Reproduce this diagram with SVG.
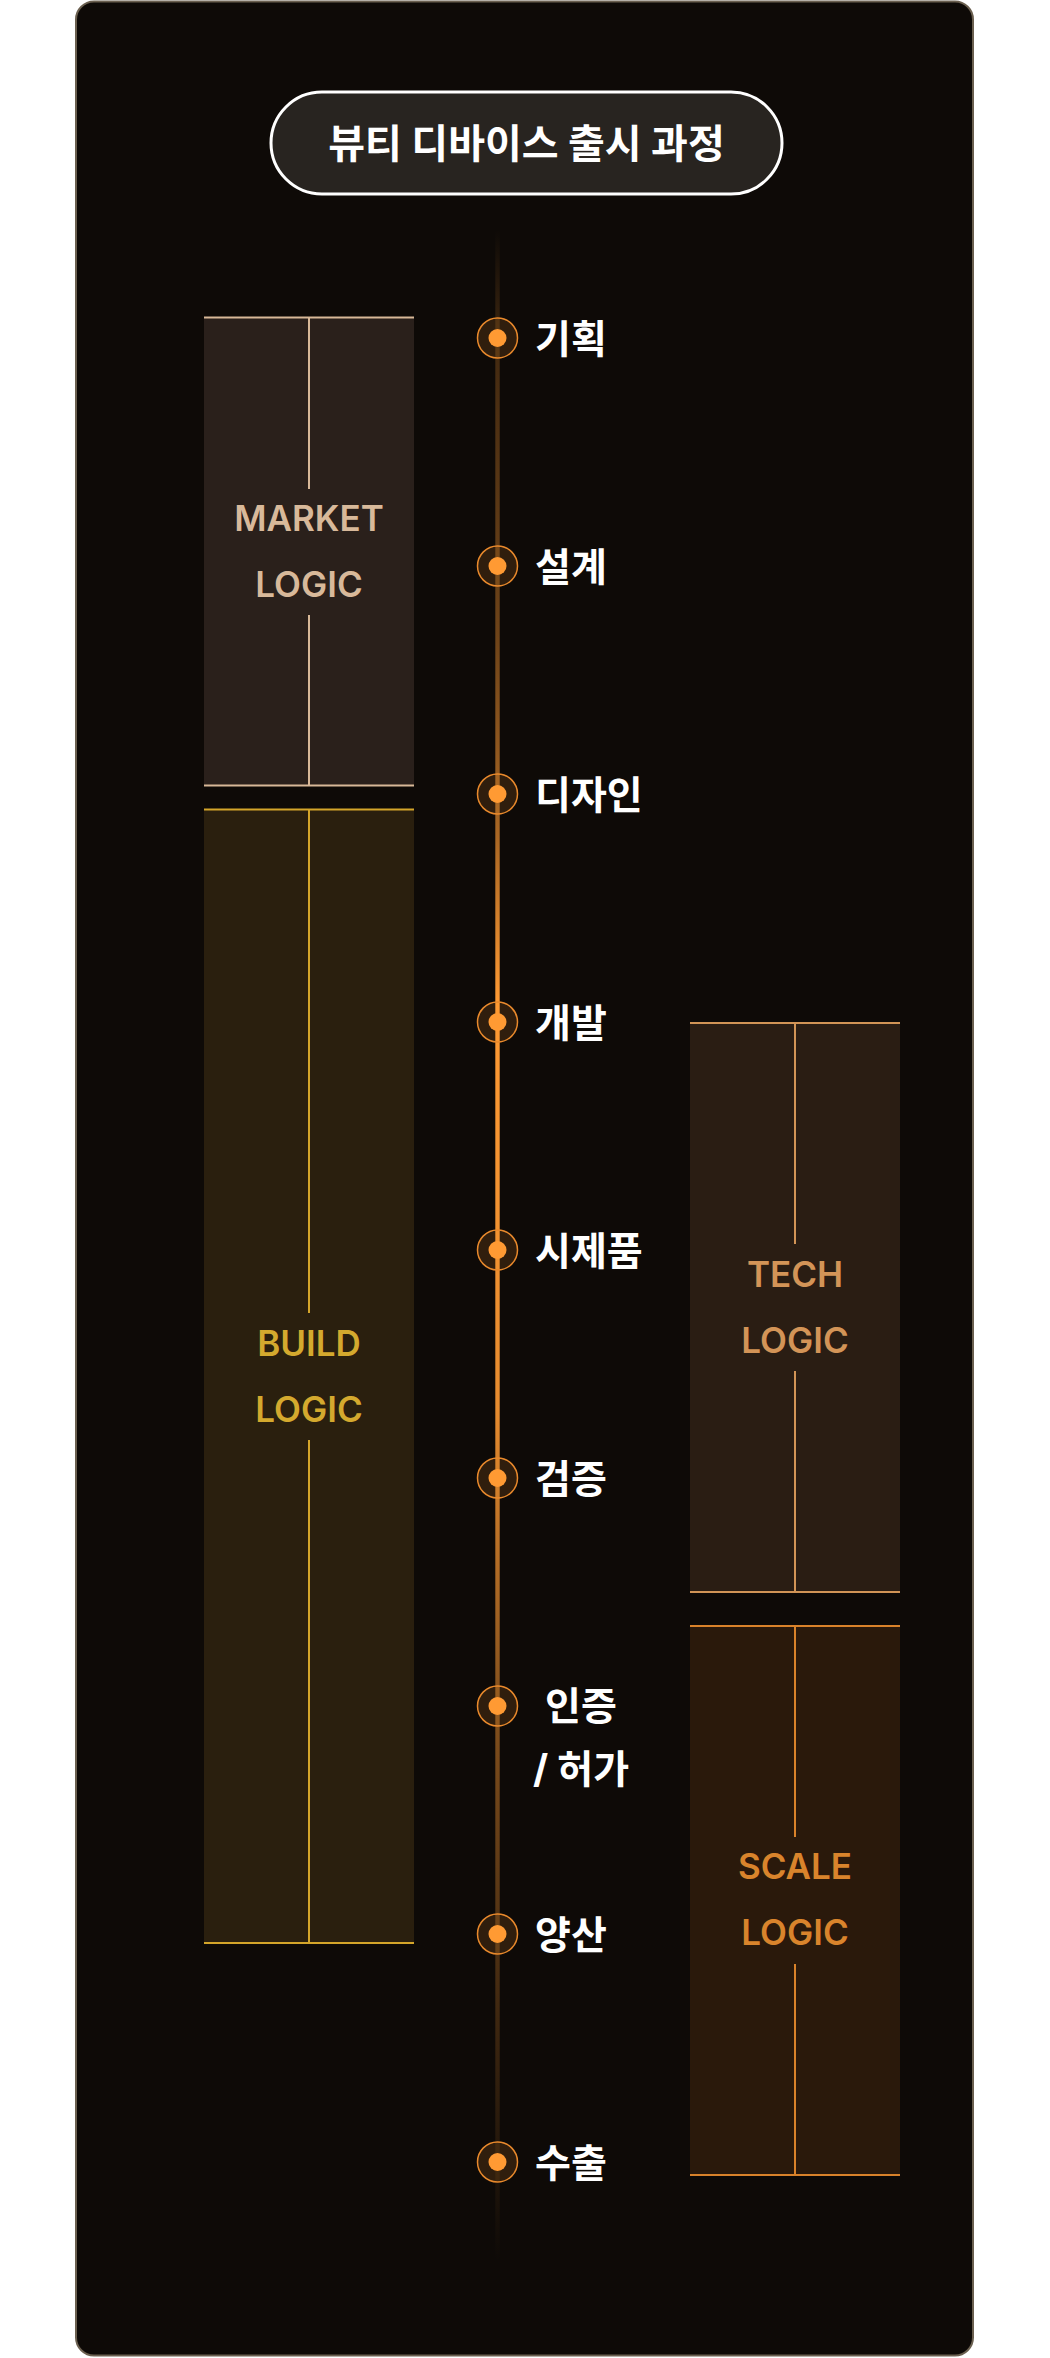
<svg xmlns="http://www.w3.org/2000/svg" width="1050" height="2358" viewBox="0 0 1050 2358">
  <defs>
    <linearGradient id="tl" gradientUnits="userSpaceOnUse" x1="0" y1="230" x2="0" y2="2262">
      <stop offset="0" stop-color="#ff9a33" stop-opacity="0"/>
      <stop offset="0.06" stop-color="#ff9a33" stop-opacity="0.22"/>
      <stop offset="0.2" stop-color="#ff9a33" stop-opacity="0.4"/>
      <stop offset="0.3" stop-color="#ff9a33" stop-opacity="0.65"/>
      <stop offset="0.38" stop-color="#ff9a33" stop-opacity="1"/>
      <stop offset="0.58" stop-color="#ff9a33" stop-opacity="0.9"/>
      <stop offset="0.72" stop-color="#ff9a33" stop-opacity="0.5"/>
      <stop offset="0.88" stop-color="#ff9a33" stop-opacity="0.2"/>
      <stop offset="1" stop-color="#ff9a33" stop-opacity="0"/>
    </linearGradient>
  </defs>
  <style>
    .kr { font-family: Inter, "Noto Sans CJK KR", sans-serif; font-weight: 700; fill: #ffffff; }
    .stage { font-size: 39px; }
    .title { font-size: 40px; }
    .logic { font-family: Inter, "Liberation Sans", sans-serif; font-weight: 600; font-size: 35px; text-anchor: middle; }
    .ring { fill: #ff9a33; fill-opacity: 0.14; stroke: #e8892c; stroke-width: 1.5; }
    .dot { fill: #ff9a33; }
    .m-fill { fill: #2a201b; } .m-line { stroke: #d8b898; stroke-width: 2; fill: none; } .m-text { fill: #d8b99a; }
    .b-fill { fill: #2a1f0e; } .b-line { stroke: #d4a52a; stroke-width: 2; fill: none; } .b-text { fill: #d4a92e; }
    .t-fill { fill: #2a1d13; } .t-line { stroke: #d29456; stroke-width: 2; fill: none; } .t-text { fill: #d39457; }
    .s-fill { fill: #2a190b; } .s-line { stroke: #d9822a; stroke-width: 2; fill: none; } .s-text { fill: #d9842c; }
  </style>

  <rect x="0" y="0" width="1050" height="2358" fill="#ffffff"/>
  <rect id="frame" x="76" y="1.5" width="897" height="2354" rx="18" fill="#0e0a07" stroke="#6b6050" stroke-width="2"/>

  <g id="title">
    <rect x="271" y="92" width="511" height="102" rx="51" fill="#282420" stroke="#ffffff" stroke-width="3"/>
    <text class="kr title" x="526.5" y="157.5" text-anchor="middle">뷰티 디바이스 출시 과정</text>
  </g>

  <g id="market-logic">
    <rect class="m-fill" x="204" y="317.5" width="210" height="468"/>
    <path class="m-line" d="M204 317.5H414M204 785.5H414M309 317.5V489M309 615V785.5"/>
    <text class="logic m-text" x="309" y="531">MARKET</text>
    <text class="logic m-text" x="309" y="597">LOGIC</text>
  </g>

  <g id="build-logic">
    <rect class="b-fill" x="204" y="809.5" width="210" height="1133.5"/>
    <path class="b-line" d="M204 809.5H414M204 1943H414M309 809.5V1313M309 1440V1943"/>
    <text class="logic b-text" x="309" y="1356">BUILD</text>
    <text class="logic b-text" x="309" y="1422">LOGIC</text>
  </g>

  <g id="tech-logic">
    <rect class="t-fill" x="690" y="1023" width="210" height="569"/>
    <path class="t-line" d="M690 1023H900M690 1592H900M795 1023V1244M795 1371V1592"/>
    <text class="logic t-text" x="795" y="1287">TECH</text>
    <text class="logic t-text" x="795" y="1353">LOGIC</text>
  </g>

  <g id="scale-logic">
    <rect class="s-fill" x="690" y="1626" width="210" height="549"/>
    <path class="s-line" d="M690 1626H900M690 2175H900M795 1626V1837M795 1964V2175"/>
    <text class="logic s-text" x="795" y="1879">SCALE</text>
    <text class="logic s-text" x="795" y="1945">LOGIC</text>
  </g>

  <g id="connectors">
    <rect x="495.3" y="230" width="4.4" height="2032" fill="url(#tl)"/>
  </g>

  <g id="stage-1">
    <circle class="ring" cx="497.5" cy="338" r="20"/><circle class="dot" cx="497.5" cy="338" r="9"/>
    <text class="kr stage" x="535" y="353">기획</text>
  </g>
  <g id="stage-2">
    <circle class="ring" cx="497.5" cy="566" r="20"/><circle class="dot" cx="497.5" cy="566" r="9"/>
    <text class="kr stage" x="535" y="581">설계</text>
  </g>
  <g id="stage-3">
    <circle class="ring" cx="497.5" cy="794" r="20"/><circle class="dot" cx="497.5" cy="794" r="9"/>
    <text class="kr stage" x="535" y="809">디자인</text>
  </g>
  <g id="stage-4">
    <circle class="ring" cx="497.5" cy="1022" r="20"/><circle class="dot" cx="497.5" cy="1022" r="9"/>
    <text class="kr stage" x="535" y="1037">개발</text>
  </g>
  <g id="stage-5">
    <circle class="ring" cx="497.5" cy="1250" r="20"/><circle class="dot" cx="497.5" cy="1250" r="9"/>
    <text class="kr stage" x="535" y="1265">시제품</text>
  </g>
  <g id="stage-6">
    <circle class="ring" cx="497.5" cy="1478" r="20"/><circle class="dot" cx="497.5" cy="1478" r="9"/>
    <text class="kr stage" x="535" y="1493">검증</text>
  </g>
  <g id="stage-7">
    <circle class="ring" cx="497.5" cy="1706" r="20"/><circle class="dot" cx="497.5" cy="1706" r="9"/>
    <text class="kr stage" x="581" y="1720" text-anchor="middle">인증</text>
    <text class="kr stage" x="581" y="1783" text-anchor="middle">/ 허가</text>
  </g>
  <g id="stage-8">
    <circle class="ring" cx="497.5" cy="1934" r="20"/><circle class="dot" cx="497.5" cy="1934" r="9"/>
    <text class="kr stage" x="535" y="1949">양산</text>
  </g>
  <g id="stage-9">
    <circle class="ring" cx="497.5" cy="2162" r="20"/><circle class="dot" cx="497.5" cy="2162" r="9"/>
    <text class="kr stage" x="535" y="2177">수출</text>
  </g>
</svg>
